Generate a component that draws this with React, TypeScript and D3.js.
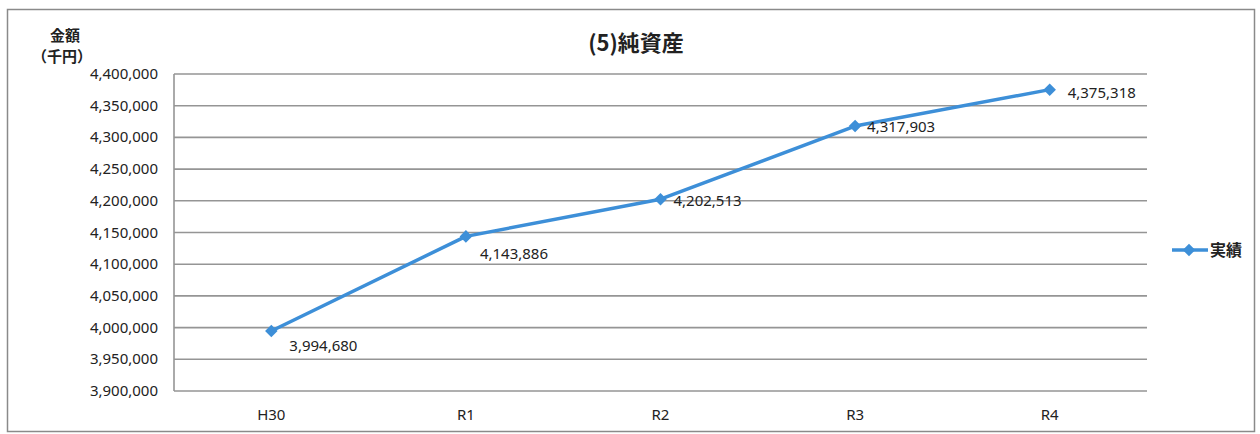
import React from "react";
import * as d3 from "d3";

const categories = ["H30", "R1", "R2", "R3", "R4"];
const values = [3994680, 4143886, 4202513, 4317903, 4375318];
const yTicks = [3900000, 3950000, 4000000, 4050000, 4100000, 4150000, 4200000, 4250000, 4300000, 4350000, 4400000];
const title = "(5)純資産";
const seriesName = "実績";

const W = 1260, H = 434;
const m = { left: 174, right: 1147, top: 74, bottom: 391 };
const color = "#3d8fd8";
const font = "'Noto Sans', 'Noto Sans CJK JP', sans-serif";
const cjk = "'Noto Sans CJK JP', sans-serif";

// label offsets per point (dx, dy)
const labelPos: [number, number][] = [
  [18, 20],
  [14, 23],
  [13, 7],
  [12, 6],
  [18, 8],
];

export default function App() {
  const x = d3.scaleBand<string>().domain(categories).range([m.left, m.right]);
  const y = d3.scaleLinear().domain([3900000, 4400000]).range([m.bottom, m.top]);
  const fmt = d3.format(",");
  const line = d3
    .line<number>()
    .x((_, i) => x(categories[i])! + x.bandwidth() / 2)
    .y((d) => y(d));
  const diamond = d3.symbol().type(d3.symbolDiamond2).size(100)()!;

  return (
    <svg width={W} height={H} style={{ position: "absolute", left: 0, top: 0, background: "#fff" }}>
      <rect x={7.5} y={9.5} width={1247} height={422} fill="#fff" stroke="#8a8a8a" strokeWidth={1.5} />
      <text x={636} y={51} textAnchor="middle" fontFamily={cjk} fontWeight={700} fontSize={22} fill="#222">
        {title}
      </text>
      <text x={65} y={41} textAnchor="middle" fontFamily={cjk} fontWeight={700} fontSize={15} fill="#222">
        金額
      </text>
      <text x={62} y={62} textAnchor="middle" fontFamily={cjk} fontWeight={700} fontSize={15} fill="#222">
        （千円）
      </text>
      {yTicks.map((t) => (
        <g key={t}>
          <line x1={m.left} x2={m.right} y1={y(t)} y2={y(t)} stroke="#959595" strokeWidth={1.6} />
          <text x={158} y={y(t) + 5} textAnchor="end" fontFamily={font} fontSize={15} fill="#222">
            {fmt(t)}
          </text>
        </g>
      ))}
      <line x1={m.left} x2={m.left} y1={m.top} y2={m.bottom} stroke="#959595" strokeWidth={1.6} />
      {categories.map((c) => (
        <text key={c} x={x(c)! + x.bandwidth() / 2} y={420} textAnchor="middle" fontFamily={font} fontSize={15} fill="#222">
          {c}
        </text>
      ))}
      <path d={line(values)!} fill="none" stroke={color} strokeWidth={3.5} strokeLinejoin="round" />
      {values.map((v, i) => {
        const cx = x(categories[i])! + x.bandwidth() / 2;
        const cy = y(v);
        return (
          <g key={i}>
            <path d={diamond} transform={`translate(${cx},${cy})`} fill={color} />
            <text x={cx + labelPos[i][0]} y={cy + labelPos[i][1]} fontFamily={font} fontSize={15} fill="#222">
              {fmt(v)}
            </text>
          </g>
        );
      })}
      <line x1={1172} x2={1208} y1={250} y2={250} stroke={color} strokeWidth={3.5} />
      <path d={diamond} transform="translate(1189,250)" fill={color} />
      <text x={1210} y={256} fontFamily={cjk} fontWeight={700} fontSize={16} fill="#222">
        {seriesName}
      </text>
    </svg>
  );
}
